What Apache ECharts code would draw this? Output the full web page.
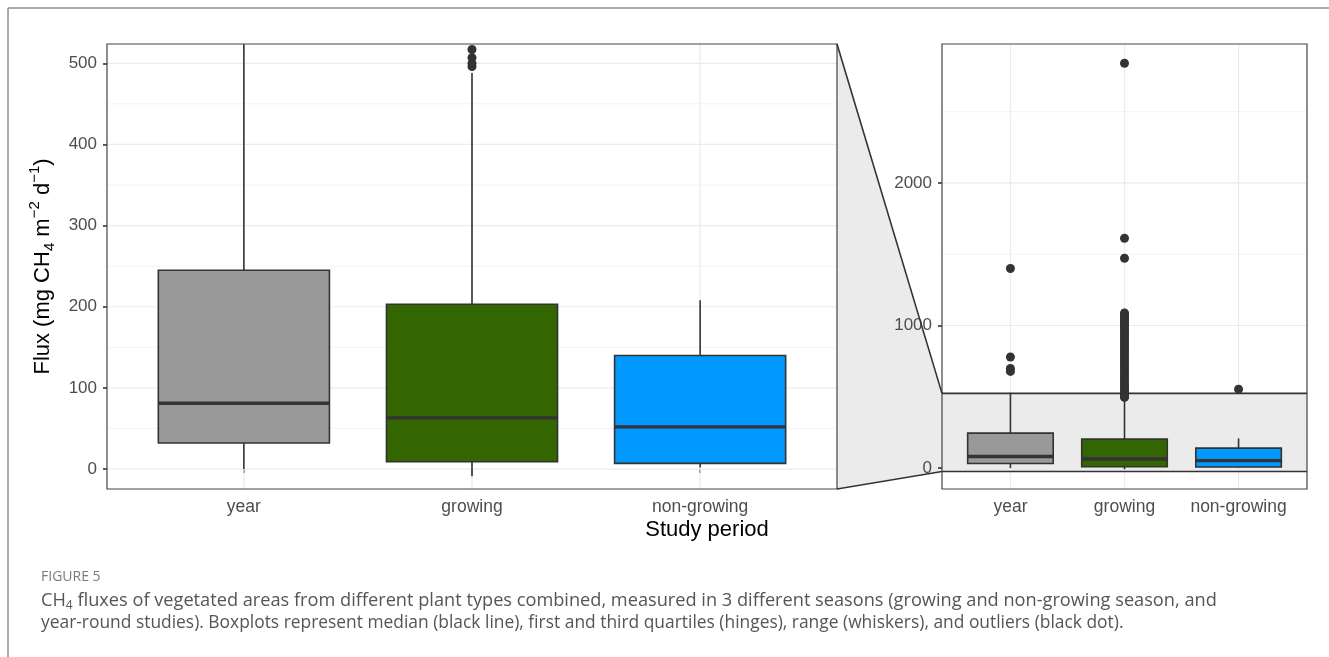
<!DOCTYPE html>
<html><head><meta charset="utf-8">
<script src="https://cdn.jsdelivr.net/npm/echarts@6/dist/echarts.min.js"></script>
<style>html,body{margin:0;padding:0;background:#fff}#c{width:1329px;height:657px}</style>
</head><body><div id="c"></div>
<script>
// ---------------- data ----------------
const categories = ['year', 'growing', 'non-growing'];
const boxColors = ['#999999', '#336600', '#0099FF'];
// [lower whisker, Q1, median, Q3, upper whisker]
const yearBox = [0, 32, 81, 245, 528];
const growingBox = [-9, 9, 63, 203, 488];
const nonGrowingBox = [2, 7, 52, 140, 208];
const yearOutliers = [1400, 779, 698, 678];
const growingOutliers = [2840, 1612, 1472, 1088, 1076, 1063, 1049, 1036, 1022, 1008, 993, 979, 962, 947, 931, 916, 899, 885, 867, 851, 834, 816, 801, 783, 766, 748, 731, 713, 696, 679, 661, 643, 626, 608, 591, 576, 560, 546, 531, 517, 507, 500, 496];
const nonGrowingOutliers = [553];
const zoomRange = [-24.6, 523.8];
const fullRange = [-147, 2975];
const leftMajorTicks = [0, 100, 200, 300, 400, 500];
const leftMinorTicks = [50, 150, 250, 350, 450];
const rightMajorTicks = [0, 1000, 2000];
const rightMinorTicks = [500, 1500, 2500];
const catPositions = [1, 2, 3];
const xRange = [0.4, 3.6];

// ---------------- build ----------------
const FONT = '"Liberation Sans", Arial, sans-serif';
const boxes = [yearBox, growingBox, nonGrowingBox];
const boxData = boxes.map((b, i) => [catPositions[i]].concat(b).concat([i]));
const outlierData = [];
[yearOutliers, growingOutliers, nonGrowingOutliers].forEach((arr, i) => arr.forEach(v => outlierData.push([catPositions[i], v])));

function gridData(majors, minors) {
  const d = [];
  minors.forEach(v => d.push([2, v, 1]));
  majors.forEach(v => d.push([2, v, 0]));
  catPositions.forEach(c => d.push([c, 0, 2]));
  return d;
}
function gridRender(params, api) {
  const cs = params.coordSys;
  const kind = api.value(2);
  if (kind < 2) {
    const y = api.coord([2, api.value(1)])[1];
    return {type: 'line', shape: {x1: cs.x, y1: y, x2: cs.x + cs.width, y2: y},
      style: {stroke: '#EBEBEB', lineWidth: kind === 0 ? 1.2 : 0.6}, silent: true};
  }
  const x = api.coord([api.value(0), 0])[0];
  return {type: 'line', shape: {x1: x, y1: cs.y, x2: x, y2: cs.y + cs.height},
    style: {stroke: '#EBEBEB', lineWidth: 1.2}, silent: true};
}
function boxRender(params, api) {
  const x = api.value(0);
  const lo = api.value(1), q1 = api.value(2), med = api.value(3), q3 = api.value(4), hi = api.value(5);
  const color = boxColors[api.value(6)];
  const half = 0.375;
  const tl = api.coord([x - half, q3]);
  const br = api.coord([x + half, q1]);
  const pLo = api.coord([x, lo]), pHi = api.coord([x, hi]);
  const pQ1 = api.coord([x, q1]), pQ3 = api.coord([x, q3]);
  const mL = api.coord([x - half, med]), mR = api.coord([x + half, med]);
  const ws = {stroke: '#333333', lineWidth: 1.6};
  return {type: 'group', children: [
    {type: 'line', shape: {x1: pHi[0], y1: pHi[1], x2: pQ3[0], y2: pQ3[1]}, style: ws},
    {type: 'line', shape: {x1: pLo[0], y1: pLo[1], x2: pQ1[0], y2: pQ1[1]}, style: ws},
    {type: 'rect', shape: {x: tl[0], y: tl[1], width: br[0] - tl[0], height: br[1] - tl[1]},
      style: {fill: color, stroke: '#333333', lineWidth: 1.6}},
    {type: 'line', shape: {x1: mL[0], y1: mL[1], x2: mR[0], y2: mR[1]}, style: {stroke: '#333333', lineWidth: 3.4}}
  ]};
}
function bandRender(params, api) {
  const cs = params.coordSys;
  const yTop = api.coord([2, api.value(2)])[1];
  const yBot = api.coord([2, api.value(1)])[1];
  const ls = {stroke: '#333333', lineWidth: 1.6};
  return {type: 'group', children: [
    {type: 'rect', shape: {x: cs.x, y: yTop, width: cs.width, height: yBot - yTop}, style: {fill: '#EBEBEB'}},
    {type: 'line', shape: {x1: cs.x, y1: yTop, x2: cs.x + cs.width, y2: yTop}, style: ls},
    {type: 'line', shape: {x1: cs.x, y1: yBot, x2: cs.x + cs.width, y2: yBot}, style: ls}
  ]};
}

function xAxisFor(gi) {
  return {
    type: 'value', gridIndex: gi, min: xRange[0], max: xRange[1],
    axisLine: {show: false}, splitLine: {show: false},
    axisTick: {show: true, customValues: catPositions, length: 4, lineStyle: {color: '#333333', width: 1.6}},
    axisLabel: {customValues: catPositions, formatter: v => categories[Math.round(v) - 1],
      fontSize: 17.5, color: '#4D4D4D', fontFamily: FONT, margin: 9}
  };
}
function yAxisFor(gi, range, ticks) {
  return {
    type: 'value', gridIndex: gi, min: range[0], max: range[1],
    axisLine: {show: false}, splitLine: {show: false},
    axisTick: {show: true, customValues: ticks, length: 4, lineStyle: {color: '#333333', width: 1.6}},
    axisLabel: {customValues: ticks, formatter: v => String(v), fontSize: 17, color: '#4D4D4D', fontFamily: FONT, margin: 10}
  };
}

const chart = echarts.init(document.getElementById('c'), null, {renderer: 'canvas'});
const yLeft = yAxisFor(0, zoomRange, leftMajorTicks);
yLeft.name = '{a|Flux (mg CH}{sub|4}{a| m}{sup|−2}{a| d}{sup|−1}{a|)}';
yLeft.nameLocation = 'middle';
yLeft.nameRotate = 90;
yLeft.nameGap = 46;
yLeft.nameTextStyle = {
  rich: {
    a: {fontSize: 22, color: '#000', fontFamily: FONT, lineHeight: 30, verticalAlign: 'middle'},
    sub: {fontSize: 15, color: '#000', fontFamily: FONT, lineHeight: 15, verticalAlign: 'bottom'},
    sup: {fontSize: 15, color: '#000', fontFamily: FONT, lineHeight: 15, verticalAlign: 'top'}
  }
};

const option = {
  animation: false,
  backgroundColor: '#ffffff',
  grid: [
    {left: 107, top: 44, width: 730, height: 445, show: true, borderColor: '#444444', borderWidth: 1.2, z: 5},
    {left: 942, top: 44, width: 365, height: 445, show: true, borderColor: '#444444', borderWidth: 1.2, z: 5}
  ],
  xAxis: [xAxisFor(0), xAxisFor(1)],
  yAxis: [yLeft, yAxisFor(1, fullRange, rightMajorTicks)],
  series: [
    {type: 'custom', xAxisIndex: 0, yAxisIndex: 0, data: gridData(leftMajorTicks, leftMinorTicks), renderItem: gridRender, z: 1, silent: true},
    {type: 'custom', xAxisIndex: 1, yAxisIndex: 1, data: gridData(rightMajorTicks, rightMinorTicks), renderItem: gridRender, z: 1, silent: true},
    {type: 'custom', xAxisIndex: 1, yAxisIndex: 1, data: [[2, zoomRange[0], zoomRange[1]]], renderItem: bandRender, z: 2, silent: true},
    {type: 'custom', xAxisIndex: 0, yAxisIndex: 0, data: boxData, renderItem: boxRender, clip: true, z: 3,
      encode: {x: 0, y: [1, 2, 3, 4, 5]}},
    {type: 'custom', xAxisIndex: 1, yAxisIndex: 1, data: boxData, renderItem: boxRender, clip: true, z: 3,
      encode: {x: 0, y: [1, 2, 3, 4, 5]}},
    {type: 'scatter', xAxisIndex: 0, yAxisIndex: 0, data: outlierData, clip: true, symbolSize: 9,
      itemStyle: {color: '#333333', opacity: 1}, z: 4},
    {type: 'scatter', xAxisIndex: 1, yAxisIndex: 1, data: outlierData, clip: true, symbolSize: 9,
      itemStyle: {color: '#333333', opacity: 1}, z: 4}
  ]
};
chart.setOption(option);

// zoom connector, positions from the axes' own scales
const A = chart.convertToPixel({xAxisIndex: 0, yAxisIndex: 0}, [xRange[1], zoomRange[1]]);
const D = chart.convertToPixel({xAxisIndex: 0, yAxisIndex: 0}, [xRange[1], zoomRange[0]]);
const B = chart.convertToPixel({xAxisIndex: 1, yAxisIndex: 1}, [xRange[0], zoomRange[1]]);
const C = chart.convertToPixel({xAxisIndex: 1, yAxisIndex: 1}, [xRange[0], zoomRange[0]]);
const W = chart.getWidth(), H = chart.getHeight();
chart.setOption({
  graphic: [
    {type: 'polygon', shape: {points: [A, B, C, D]}, style: {fill: '#EBEBEB'}, z: -1, silent: true},
    {type: 'line', shape: {x1: A[0], y1: A[1], x2: B[0], y2: B[1]}, style: {stroke: '#333333', lineWidth: 1.6}, z: 10, silent: true},
    {type: 'line', shape: {x1: D[0], y1: D[1], x2: C[0], y2: C[1]}, style: {stroke: '#333333', lineWidth: 1.6}, z: 10, silent: true},
    // figure frame
    {type: 'line', shape: {x1: 8, y1: 8, x2: W, y2: 8}, style: {stroke: '#8c8c8c', lineWidth: 1.5}, silent: true},
    {type: 'line', shape: {x1: 8, y1: 8, x2: 8, y2: H}, style: {stroke: '#8c8c8c', lineWidth: 1.5}, silent: true},
    // x axis title
    {type: 'text', x: 707, y: 530, style: {text: 'Study period', font: '22px ' + FONT, fill: '#000', align: 'center', verticalAlign: 'middle'}},
    // caption
    {type: 'text', x: 41, y: 577, style: {text: 'FIGURE 5', font: '14px "Open Sans", sans-serif', fill: '#7a7a7a', verticalAlign: 'middle'}},
    {type: 'text', x: 41, y: 601, style: {
      text: '{a|CH}{s|4}{a| fluxes of vegetated areas from different plant types combined, measured in 3 different seasons (growing and non-growing season, and}',
      verticalAlign: 'middle',
      rich: {a: {font: '18.2px "Open Sans", sans-serif', fill: '#555555', lineHeight: 22, verticalAlign: 'middle'},
             s: {font: '12px "Open Sans", sans-serif', fill: '#555555', lineHeight: 11, verticalAlign: 'bottom'}}
    }},
    {type: 'text', x: 41, y: 623, style: {
      text: 'year-round studies). Boxplots represent median (black line), first and third quartiles (hinges), range (whiskers), and outliers (black dot).',
      font: '17.4px "Open Sans", sans-serif', fill: '#555555', verticalAlign: 'middle'}}
  ]
});
</script>
</body></html>
